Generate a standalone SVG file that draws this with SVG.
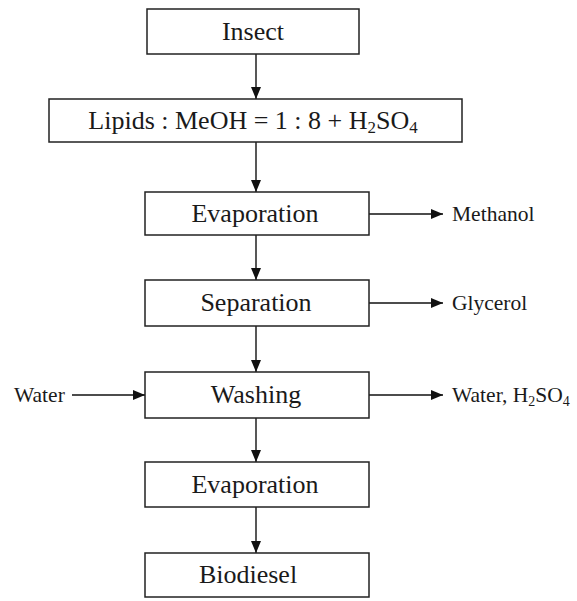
<svg xmlns="http://www.w3.org/2000/svg" width="577" height="601" viewBox="0 0 577 601">
  <style>
    .box { fill: #ffffff; stroke: #222222; stroke-width: 1.5; }
    .main { font-family: "Liberation Serif", "Times New Roman", serif; font-size: 26px; fill: #1a1a1a; text-anchor: middle; }
    .side { font-family: "Liberation Serif", "Times New Roman", serif; font-size: 21.5px; fill: #1a1a1a; }
    .sub { font-size: 0.65em; }
    .flow { stroke: #111111; stroke-width: 1.4; fill: none; marker-end: url(#head); }
  </style>
  <defs>
    <marker id="head" markerUnits="userSpaceOnUse" markerWidth="12" markerHeight="10" refX="12" refY="5" orient="auto">
      <path d="M0,0 L12,5 L0,10 Z" fill="#111111"/>
    </marker>
  </defs>
  <rect width="577" height="601" fill="#ffffff"/>

  <g id="connectors">
    <line class="flow" x1="256" y1="54" x2="256" y2="99"/>
    <line class="flow" x1="256" y1="142" x2="256" y2="192"/>
    <line class="flow" x1="256" y1="235" x2="256" y2="280"/>
    <line class="flow" x1="256" y1="326" x2="256" y2="372"/>
    <line class="flow" x1="256" y1="418" x2="256" y2="462"/>
    <line class="flow" x1="256" y1="507" x2="256" y2="553"/>
    <line class="flow" x1="369" y1="214" x2="443" y2="214"/>
    <line class="flow" x1="369" y1="303" x2="443" y2="303"/>
    <line class="flow" x1="72" y1="395" x2="145" y2="395"/>
    <line class="flow" x1="369" y1="395" x2="443" y2="395"/>
  </g>

  <g id="insect">
    <rect class="box" x="147" y="9" width="212" height="45"/>
    <text class="main" x="253" y="40">Insect</text>
  </g>
  <g id="lipids">
    <rect class="box" x="49" y="99" width="413" height="43"/>
    <text class="main" x="253" y="129">Lipids : MeOH = 1 : 8 + H<tspan class="sub" dy="4">2</tspan><tspan dy="-4">SO</tspan><tspan class="sub" dy="4">4</tspan></text>
  </g>
  <g id="evaporation1">
    <rect class="box" x="145" y="192" width="224" height="43"/>
    <text class="main" x="255" y="222">Evaporation</text>
  </g>
  <g id="separation">
    <rect class="box" x="145" y="280" width="224" height="46"/>
    <text class="main" x="256" y="311">Separation</text>
  </g>
  <g id="washing">
    <rect class="box" x="145" y="372" width="224" height="46"/>
    <text class="main" x="256" y="403">Washing</text>
  </g>
  <g id="evaporation2">
    <rect class="box" x="145" y="462" width="224" height="45"/>
    <text class="main" x="255" y="493">Evaporation</text>
  </g>
  <g id="biodiesel">
    <rect class="box" x="145" y="553" width="224" height="44"/>
    <text class="main" x="248" y="583">Biodiesel</text>
  </g>

  <g id="methanol">
    <text class="side" x="452" y="221">Methanol</text>
  </g>
  <g id="glycerol">
    <text class="side" x="452" y="310">Glycerol</text>
  </g>
  <g id="water-in">
    <text class="side" x="14" y="402">Water</text>
  </g>
  <g id="water-out">
    <text class="side" x="452" y="402">Water, H<tspan class="sub" dy="4">2</tspan><tspan dy="-4">SO</tspan><tspan class="sub" dy="4">4</tspan></text>
  </g>
</svg>
